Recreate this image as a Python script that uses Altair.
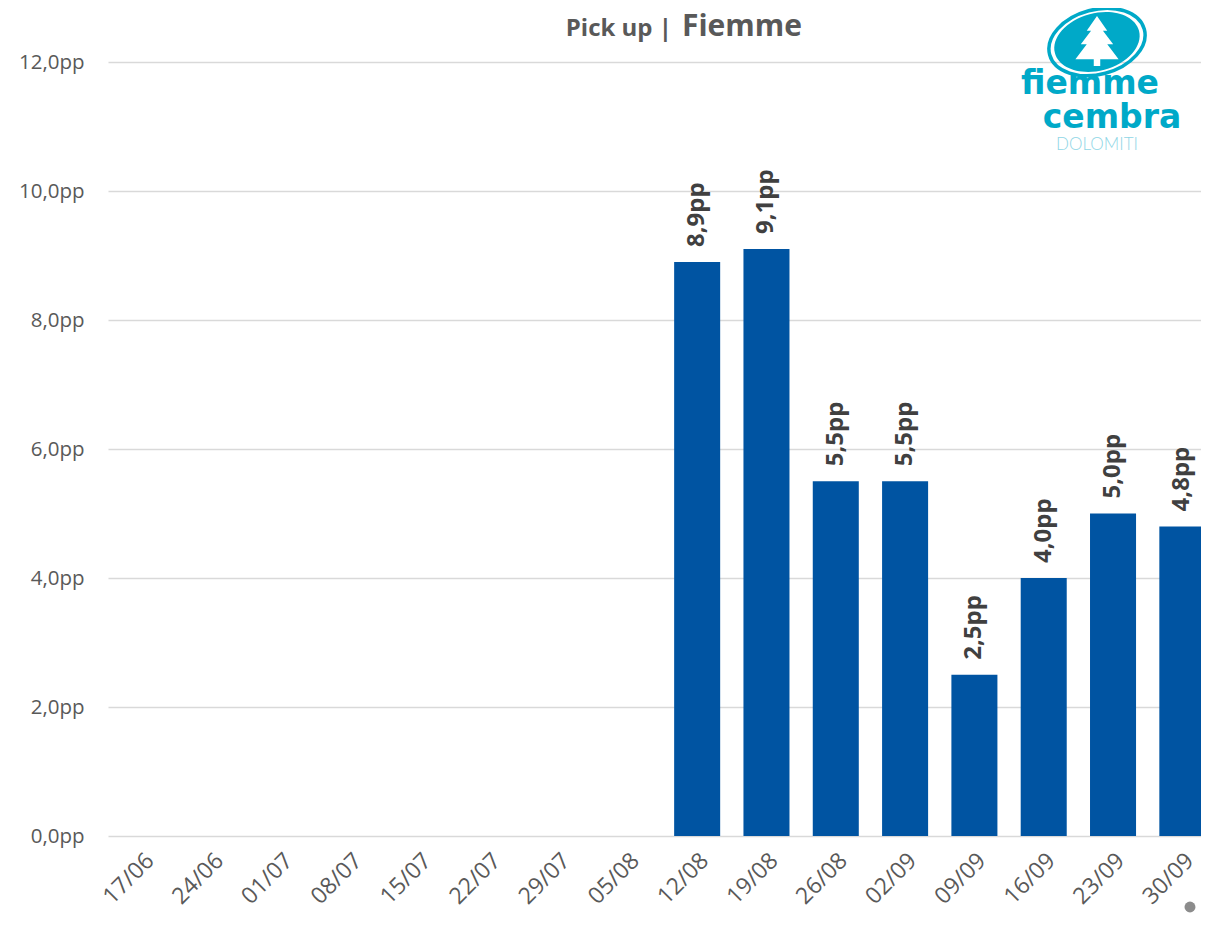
import altair as alt
import pandas as pd

weeks = ["17/06", "24/06", "01/07", "08/07", "15/07", "22/07", "29/07", "05/08",
         "12/08", "19/08", "26/08", "02/09", "09/09", "16/09", "23/09", "30/09"]
pickup = [None, None, None, None, None, None, None, None,
          8.9, 9.1, 5.5, 5.5, 2.5, 4.0, 5.0, 4.8]
y_ticks = [0, 2, 4, 6, 8, 10, 12]

df = pd.DataFrame({"week": weeks, "value": pickup})
df["label"] = df["value"].map(lambda v: "" if pd.isna(v) else f"{v:.1f}".replace(".", ",") + "pp")

BAR = "#0054A2"
TEAL = "#00A9C8"
GREY = "#595959"

x_enc = alt.X("week:N", sort=weeks, title=None,
              scale=alt.Scale(paddingInner=0.336, paddingOuter=0.168, range=[0, 1109]),
              axis=alt.Axis(labelAngle=-45, labelFontSize=23, labelColor=GREY,
                            labelFont="Open Sans", ticks=False, domain=False,
                            labelPadding=13, grid=False))
y_enc = alt.Y("value:Q", title=None,
              scale=alt.Scale(domain=[0, 12], nice=False),
              axis=alt.Axis(values=y_ticks, labelFontSize=20.5, labelColor=GREY,
                            labelFont="Open Sans", ticks=False, domain=False,
                            labelPadding=24, gridColor="#D9D9D9", gridWidth=1.5,
                            labelExpr="replace(format(datum.value, '.1f'), '.', ',') + 'pp'"))

base = alt.Chart(df)
bars = base.mark_bar(color=BAR).encode(x=x_enc, y=y_enc)
labels = base.transform_filter("datum.value != null").mark_text(
    angle=270, align="left", baseline="middle", dx=15, fontSize=24,
    fontWeight="bold", font="Open Sans", color="#404040"
).encode(x=alt.X("week:N", sort=weeks), y="value:Q", text="label:N")

one = pd.DataFrame({"k": [0]})
ob = alt.Chart(one)

OX, OY = 108, 62  # plot origin on the page

title1 = ob.mark_text(text="Pick up |", align="right", baseline="alphabetic", fontSize=24,
                      fontWeight="bold", font="Open Sans", color=GREY).encode(
    x=alt.value(672 - OX), y=alt.value(36 - OY))
title2 = ob.mark_text(text="Fiemme", align="left", baseline="alphabetic", fontSize=30,
                      fontWeight="bold", font="Open Sans", color=GREY).encode(
    x=alt.value(682 - OX), y=alt.value(36 - OY))

ell = "M -1 0 A 1 0.66 0 1 0 1 0 A 1 0.66 0 1 0 -1 0 Z"
tree = ("M 0 -1 L 0.38 -0.45 L 0.22 -0.45 L 0.6 0.05 L 0.38 0.05 L 0.8 0.6 "
        "L 0.12 0.6 L 0.12 0.85 L -0.12 0.85 L -0.12 0.6 L -0.8 0.6 L -0.38 0.05 "
        "L -0.6 0.05 L -0.22 -0.45 L -0.38 -0.45 Z")
lx, ly = 1097 - OX, 42 - OY
ring = ob.mark_point(shape=ell, filled=False, stroke=TEAL, strokeWidth=3.5, opacity=1,
                     angle=345, size=98 * 98).encode(x=alt.value(lx), y=alt.value(ly))
disc = ob.mark_point(shape=ell, filled=True, fill=TEAL, opacity=1,
                     angle=345, size=87 * 87).encode(x=alt.value(lx), y=alt.value(ly))
treem = ob.mark_point(shape=tree, filled=True, fill="white", opacity=1,
                      size=54 * 54).encode(x=alt.value(lx), y=alt.value(ly + 1))

w1 = ob.mark_text(text="fiemme", align="center", baseline="alphabetic", fontSize=33,
                  fontWeight="bold", font="DejaVu Sans", color=TEAL).encode(
    x=alt.value(1090 - OX), y=alt.value(94 - OY))
w2 = ob.mark_text(text="cembra", align="center", baseline="alphabetic", fontSize=33,
                  fontWeight="bold", font="DejaVu Sans", color=TEAL).encode(
    x=alt.value(1112 - OX), y=alt.value(128 - OY))
w3 = ob.mark_text(text="DOLOMITI", align="center", baseline="alphabetic", fontSize=17,
                  fontWeight=300, font="Lato", color="#8FD6E6").encode(
    x=alt.value(1097 - OX), y=alt.value(150 - OY))

dot = ob.mark_point(shape="circle", filled=True, fill="#8C8C8C", opacity=1, size=120).encode(
    x=alt.value(1190 - OX), y=alt.value(907 - OY))

chart = alt.layer(bars, labels, title1, title2, ring, disc, treem, w1, w2, w3, dot).properties(
    width=1093, height=774,
    autosize=alt.AutoSizeParams(type="none"),
    padding={"left": 100, "top": 54, "right": 0, "bottom": 78},
).configure_view(stroke=None)

chart.save("out.html", embed_options={"renderer": "svg", "actions": False})
